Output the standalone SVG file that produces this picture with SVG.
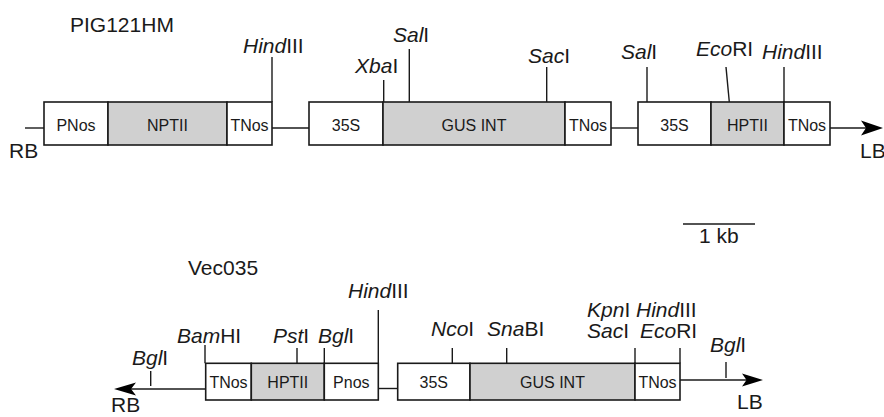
<svg xmlns="http://www.w3.org/2000/svg" width="884" height="417" viewBox="0 0 884 417">
<style>
text{font-family:"Liberation Sans",Arial,sans-serif;fill:#1a1a1a}
.lbl{font-size:21px}
.bx{font-size:16px;text-anchor:middle}
.i{font-style:italic}
.w{fill:#fff;stroke:#1a1a1a;stroke-width:1.6}
.g{fill:#d0d0d0;stroke:#1a1a1a;stroke-width:1.6}
.ln{stroke:#1a1a1a;stroke-width:1.4;fill:none}
.ah{fill:#000}
</style>
<rect width="884" height="417" fill="#fff"/>

<g id="connectors">
  <line class="ln" x1="25" y1="128" x2="44" y2="128"/>
  <line class="ln" x1="272" y1="128" x2="309" y2="128"/>
  <line class="ln" x1="611" y1="128" x2="638" y2="128"/>
  <line class="ln" x1="830" y1="128" x2="866" y2="128"/>
  <path class="ah" d="M883,128 L861,120.5 L866,128 L861,135.5 Z"/>
  <line class="ln" x1="130" y1="389" x2="205.7" y2="389"/>
  <path class="ah" d="M114,389 L136,382.5 L131,389 L136,395.5 Z"/>
  <line class="ln" x1="378.3" y1="388.5" x2="397.7" y2="388.5"/>
  <line class="ln" x1="680" y1="380" x2="748" y2="380"/>
  <path class="ah" d="M763,380 L742,373.5 L746.5,380 L742,386.5 Z"/>
  <line class="ln" x1="683" y1="224" x2="755" y2="224"/>
</g>

<g id="title-pig">
  <text class="lbl" x="70" y="32">PIG121HM</text>
  <text class="lbl" x="9" y="158">RB</text>
  <text class="lbl" x="860" y="158">LB</text>
</g>

<g id="pig-pnos"><rect class="w" x="44" y="102" width="64" height="43"/><text class="bx" x="76" y="131">PNos</text></g>
<g id="pig-nptii"><rect class="g" x="108" y="102" width="119" height="43"/><text class="bx" x="167.5" y="131">NPTII</text></g>
<g id="pig-tnos1"><rect class="w" x="227" y="102" width="45" height="43"/><text class="bx" x="249.5" y="131">TNos</text></g>
<g id="pig-35s1"><rect class="w" x="309" y="102" width="74" height="43"/><text class="bx" x="346" y="131">35S</text></g>
<g id="pig-gus"><rect class="g" x="383" y="102" width="182" height="43"/><text class="bx" x="474" y="131">GUS INT</text></g>
<g id="pig-tnos2"><rect class="w" x="565" y="102" width="46" height="43"/><text class="bx" x="588" y="131">TNos</text></g>
<g id="pig-35s2"><rect class="w" x="638" y="102" width="73" height="43"/><text class="bx" x="674.5" y="131">35S</text></g>
<g id="pig-hptii"><rect class="g" x="711" y="102" width="73" height="43"/><text class="bx" x="747.5" y="131">HPTII</text></g>
<g id="pig-tnos3"><rect class="w" x="784" y="102" width="46" height="43"/><text class="bx" x="807" y="131">TNos</text></g>

<g id="pig-sites">
  <line class="ln" x1="272" y1="57" x2="272" y2="102"/>
  <text class="lbl" x="243" y="53"><tspan class="i">Hind</tspan>III</text>
  <line class="ln" x1="383.7" y1="80" x2="383.7" y2="102"/>
  <text class="lbl" x="355" y="73"><tspan class="i">Xba</tspan>I</text>
  <line class="ln" x1="409.3" y1="49" x2="409.3" y2="102"/>
  <text class="lbl" x="393" y="42"><tspan class="i">Sal</tspan>I</text>
  <line class="ln" x1="546.7" y1="67" x2="546.7" y2="102"/>
  <text class="lbl" x="528" y="63"><tspan class="i">Sac</tspan>I</text>
  <line class="ln" x1="647" y1="67" x2="647" y2="102"/>
  <text class="lbl" x="621" y="59"><tspan class="i">Sal</tspan>I</text>
  <line class="ln" x1="726" y1="67" x2="729.3" y2="102"/>
  <text class="lbl" x="696" y="56"><tspan class="i">Eco</tspan>RI</text>
  <line class="ln" x1="784" y1="67" x2="784" y2="102"/>
  <text class="lbl" x="762" y="59"><tspan class="i">Hind</tspan>III</text>
</g>

<g id="scale">
  <text class="lbl" x="699" y="243">1 kb</text>
</g>

<g id="title-vec">
  <text class="lbl" x="188" y="275">Vec035</text>
  <text class="lbl" x="111" y="412">RB</text>
  <text class="lbl" x="737" y="409">LB</text>
</g>

<g id="vec-tnos1"><rect class="w" x="205.7" y="363.3" width="45.6" height="36.7"/><text class="bx" x="228.5" y="388">TNos</text></g>
<g id="vec-hptii"><rect class="g" x="251.3" y="363.3" width="73" height="36.7"/><text class="bx" x="287.8" y="388">HPTII</text></g>
<g id="vec-pnos"><rect class="w" x="324.3" y="363.3" width="54" height="36.7"/><text class="bx" x="351.3" y="388">Pnos</text></g>
<g id="vec-35s"><rect class="w" x="397.7" y="363.3" width="72.3" height="36.7"/><text class="bx" x="433.8" y="388">35S</text></g>
<g id="vec-gus"><rect class="g" x="470" y="363.3" width="165" height="36.7"/><text class="bx" x="552.5" y="388">GUS INT</text></g>
<g id="vec-tnos2"><rect class="w" x="635" y="363.3" width="45" height="36.7"/><text class="bx" x="657.5" y="388">TNos</text></g>

<g id="vec-sites">
  <line class="ln" x1="150.7" y1="371" x2="150.7" y2="386"/>
  <text class="lbl" x="132" y="365"><tspan class="i">Bgl</tspan>I</text>
  <line class="ln" x1="205" y1="345" x2="205" y2="363.3"/>
  <text class="lbl" x="177" y="343"><tspan class="i">Bam</tspan>HI</text>
  <line class="ln" x1="297" y1="348" x2="297" y2="363.3"/>
  <text class="lbl" x="273" y="343"><tspan class="i">Pst</tspan>I</text>
  <line class="ln" x1="324.3" y1="348" x2="324.3" y2="363.3"/>
  <text class="lbl" x="318" y="343"><tspan class="i">Bgl</tspan>I</text>
  <line class="ln" x1="378.3" y1="310" x2="378.3" y2="363.3"/>
  <text class="lbl" x="348" y="298"><tspan class="i">Hind</tspan>III</text>
  <line class="ln" x1="452.3" y1="348" x2="452.3" y2="363.3"/>
  <text class="lbl" x="431" y="336"><tspan class="i">Nco</tspan>I</text>
  <line class="ln" x1="506.7" y1="348" x2="506.7" y2="363.3"/>
  <text class="lbl" x="487" y="336"><tspan class="i">Sna</tspan>BI</text>
  <line class="ln" x1="635" y1="348" x2="635" y2="363.3"/>
  <text class="lbl" x="587" y="317"><tspan class="i">Kpn</tspan>I</text>
  <text class="lbl" x="587" y="338"><tspan class="i">Sac</tspan>I</text>
  <line class="ln" x1="680" y1="348" x2="680" y2="363.3"/>
  <text class="lbl" x="636" y="317"><tspan class="i">Hind</tspan>III</text>
  <text class="lbl" x="640" y="338"><tspan class="i">Eco</tspan>RI</text>
  <line class="ln" x1="726" y1="362" x2="726" y2="378"/>
  <text class="lbl" x="710" y="352"><tspan class="i">Bgl</tspan>I</text>
</g>
</svg>
